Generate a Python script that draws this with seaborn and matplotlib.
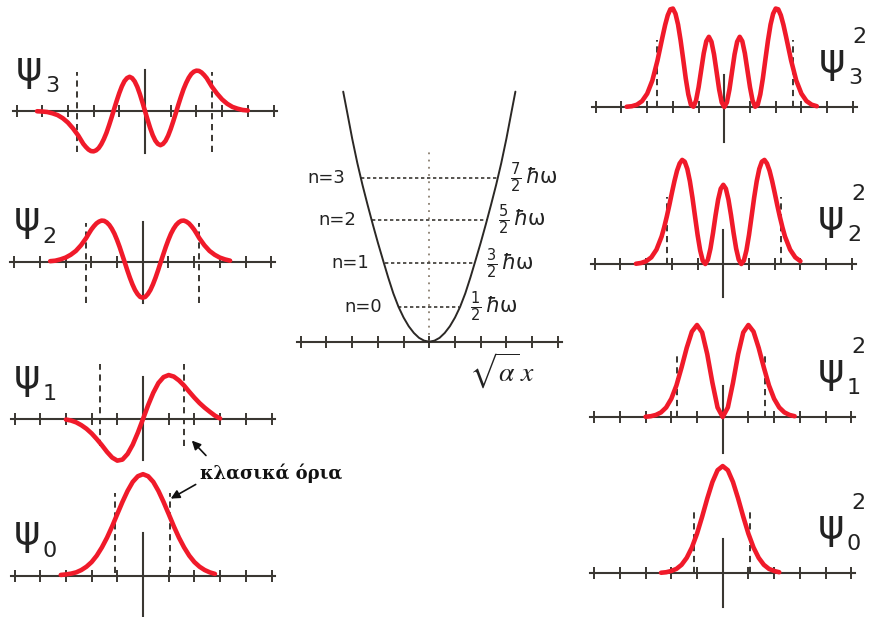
import matplotlib.pyplot as plt
import seaborn as sns

sns.set_style("white")
plt.rcParams["font.family"] = ["DejaVu Sans"]

RED = "#f01a2a"
INK = "#3a3732"
W, H = 870, 617
S = 25.7  # pixels per unit (one tick) on both axes

# sampling grids along sqrt(alpha) x
xi_c = [-4.2, -4.0, -3.8, -3.6, -3.4, -3.2, -3.0, -2.8, -2.6, -2.4, -2.2, -2.0,
        -1.8, -1.6, -1.4, -1.2, -1.0, -0.8, -0.6, -0.4, -0.2, 0.0, 0.2, 0.4,
        0.6, 0.8, 1.0, 1.2, 1.4, 1.6, 1.8, 2.0, 2.2, 2.4, 2.6, 2.8, 3.0, 3.2,
        3.4, 3.6, 3.8, 4.0, 4.2]
xi_f = [-4.2, -4.0, -3.8, -3.6, -3.4, -3.2, -3.0, -2.8, -2.6,
        -2.4, -2.3, -2.2, -2.1, -2.0, -1.9, -1.8, -1.7, -1.6, -1.5, -1.4, -1.3,
        -1.2, -1.1, -1.0, -0.9, -0.8, -0.7, -0.6, -0.5, -0.4, -0.3, -0.2, -0.1,
        0.0, 0.1, 0.2, 0.3, 0.4, 0.5, 0.6, 0.7, 0.8, 0.9, 1.0, 1.1, 1.2, 1.3,
        1.4, 1.5, 1.6, 1.7, 1.8, 1.9, 2.0, 2.1, 2.2, 2.3, 2.4,
        2.6, 2.8, 3.0, 3.2, 3.4, 3.6, 3.8, 4.0, 4.2]

# wave functions (left column)
psi3 = [-0.01, -0.02, -0.04, -0.09, -0.16, -0.28, -0.45, -0.68, -0.95,
        -1.28, -1.40, -1.50, -1.56, -1.57, -1.53, -1.44, -1.29, -1.09, -0.85,
        -0.56, -0.25, 0.08, 0.40, 0.70, 0.96, 1.16, 1.28, 1.33, 1.28, 1.15,
        0.94, 0.66, 0.34,
        0.0,
        -0.34, -0.66, -0.94, -1.15, -1.28, -1.33, -1.28, -1.16, -0.96, -0.70,
        -0.40, -0.08, 0.25, 0.56, 0.85, 1.09, 1.29, 1.44, 1.53, 1.57, 1.56,
        1.50, 1.40, 1.28,
        0.95, 0.68, 0.45, 0.28, 0.16, 0.09, 0.04, 0.02]
psi2 = [0.02, 0.04, 0.09, 0.16, 0.27, 0.42,
        0.64, 0.78, 0.92, 1.09, 1.25, 1.38, 1.49, 1.56, 1.60, 1.59, 1.53, 1.43,
        1.28, 1.09, 0.85, 0.58, 0.28, -0.02, -0.33, -0.62, -0.88, -1.10, -1.26,
        -1.37,
        -1.40,
        -1.37, -1.26, -1.10, -0.88, -0.62, -0.33, -0.02, 0.28, 0.58, 0.85, 1.09,
        1.28, 1.43, 1.53, 1.59, 1.60, 1.56, 1.49, 1.38, 1.25, 1.09, 0.92, 0.78,
        0.64,
        0.42, 0.27, 0.16, 0.09, 0.04]
psi1 = [-0.02, -0.06, -0.13, -0.24, -0.38, -0.56, -0.78, -1.02, -1.28, -1.50,
        -1.62, -1.58, -1.36, -1.00, -0.53, 0.0, 0.54, 1.02, 1.40, 1.63, 1.71,
        1.65, 1.50, 1.30, 1.06, 0.83, 0.62, 0.44, 0.28, 0.13, 0.02]
psi0 = [0.03, 0.05, 0.08, 0.13, 0.22, 0.35, 0.53, 0.78, 1.10, 1.48, 1.92, 2.40,
        2.87, 3.30, 3.65, 3.87, 3.95, 3.87, 3.65, 3.30, 2.87, 2.40, 1.92, 1.48,
        1.10, 0.78, 0.53, 0.35, 0.22, 0.13, 0.07]

# probability densities (right column)
psi3_sq = [0.01, 0.03, 0.09, 0.23, 0.52, 1.03, 1.81,
           2.75, 3.20, 3.57, 3.80, 3.83, 3.63, 3.21, 2.59, 1.86, 1.11, 0.49,
           0.09, 0.01, 0.25, 0.77, 1.43, 2.09, 2.56, 2.73, 2.54, 2.05, 1.37,
           0.68, 0.18,
           0.0,
           0.18, 0.68, 1.37, 2.05, 2.54, 2.73, 2.56, 2.09, 1.43, 0.77, 0.25,
           0.01, 0.09, 0.49, 1.11, 1.86, 2.59, 3.21, 3.63, 3.83, 3.80, 3.57,
           3.20, 2.75,
           1.81, 1.03, 0.52, 0.23, 0.09, 0.03]
psi2_sq = [0.01, 0.04, 0.11, 0.26, 0.56,
           1.07, 1.43, 1.84, 2.29, 2.77, 3.23, 3.63, 3.91, 4.05, 3.98, 3.70,
           3.22, 2.58, 1.85, 1.13, 0.53, 0.13, 0.00, 0.17, 0.60, 1.21, 1.90,
           2.51, 2.93,
           3.08,
           2.93, 2.51, 1.90, 1.21, 0.60, 0.17, 0.00, 0.13, 0.53, 1.13, 1.85,
           2.58, 3.22, 3.70, 3.98, 4.05, 3.91, 3.63, 3.23, 2.77, 2.29, 1.84,
           1.43, 1.07,
           0.56, 0.26, 0.11]
psi1_sq = [0.01, 0.03, 0.08, 0.18, 0.37, 0.71, 1.23, 1.93, 2.69, 3.32, 3.58,
           3.29, 2.44, 1.33, 0.37, 0.0, 0.37, 1.33, 2.44, 3.29, 3.58, 3.32,
           2.69, 1.93, 1.23, 0.71, 0.37, 0.18, 0.08, 0.03]
psi0_sq = [0.01, 0.03, 0.08, 0.16, 0.32, 0.59, 0.99, 1.53, 2.19, 2.90, 3.54,
           4.00, 4.16, 4.00, 3.54, 2.90, 2.19, 1.53, 0.99, 0.59, 0.32, 0.16,
           0.08, 0.03]

# classical turning points (dashed lines) per state
turn_left = [-1.1, -1.68, -2.2, -2.65]
turn_right = [1.05, 1.6, 2.2, 2.6]
turn_left_sq = [-1.1, -1.79, -2.2, -2.6]
turn_right_sq = [1.06, 1.65, 2.25, 2.67]

# potential well (middle)
pot_x = [-3.35, -3.2, -3.0, -2.8, -2.6, -2.4, -2.2, -2.0, -1.8, -1.6, -1.4,
         -1.2, -1.0, -0.8, -0.6, -0.4, -0.2, 0.0, 0.2, 0.4, 0.6, 0.8, 1.0,
         1.2, 1.4, 1.6, 1.8, 2.0, 2.2, 2.4, 2.6, 2.8, 3.0, 3.2, 3.35]
pot_v = [9.73, 8.95, 7.90, 6.95, 6.10, 5.32, 4.57, 3.85, 3.17, 2.50, 1.88,
         1.36, 0.94, 0.60, 0.34, 0.15, 0.04, 0.0, 0.04, 0.15, 0.34, 0.60, 0.94,
         1.36, 1.88, 2.50, 3.17, 3.85, 4.57, 5.32, 6.10, 6.95, 7.90, 8.95, 9.73]
level_e = [1.36, 3.05, 4.73, 6.38]
level_left = [-1.23, -1.73, -2.24, -2.65]
level_right = [1.15, 1.77, 2.24, 2.70]
level_names = ["n=0", "n=1", "n=2", "n=3"]
level_energy = [r"$\frac{1}{2}\,\hbar\mathrm{\omega}$",
                r"$\frac{3}{2}\,\hbar\mathrm{\omega}$",
                r"$\frac{5}{2}\,\hbar\mathrm{\omega}$",
                r"$\frac{7}{2}\,\hbar\mathrm{\omega}$"]

fig = plt.figure(figsize=(W / 100, H / 100), dpi=100)


def panel(cx, cy, ylo, yhi, vbounds=None):
    xlo, xhi = -5.5, 5.5
    rect = [(cx + xlo * S) / W, (H - cy + ylo * S) / H,
            (xhi - xlo) * S / W, (yhi - ylo) * S / H]
    ax = fig.add_axes(rect)
    ax.set_xlim(xlo, xhi)
    ax.set_ylim(ylo, yhi)
    ax.patch.set_visible(False)
    ax.spines["top"].set_visible(False)
    ax.spines["right"].set_visible(False)
    ax.spines["bottom"].set_position(("data", 0))
    ax.spines["bottom"].set_bounds(-5.15, 5.15)
    ax.spines["bottom"].set_color(INK)
    ax.spines["bottom"].set_linewidth(1.5)
    if vbounds is None:
        ax.spines["left"].set_visible(False)
    else:
        ax.spines["left"].set_position(("data", 0))
        ax.spines["left"].set_bounds(*vbounds)
        ax.spines["left"].set_color(INK)
        ax.spines["left"].set_linewidth(1.5)
    ax.set_xticks(range(-5, 6))
    ax.set_yticks([])
    ax.tick_params(axis="x", bottom=True, direction="inout", length=9,
                   width=1.4, color=INK, labelbottom=False)
    for sp in ax.spines.values():
        sp.set_clip_on(False)
    return ax


def curve(ax, grid, start, ys):
    i0 = grid.index(start)
    xs = grid[i0:i0 + len(ys)]
    sns.lineplot(x=xs, y=ys, ax=ax, color=RED, linewidth=3.3,
                 estimator=None, sort=False, zorder=4)
    ax.lines[-1].set_clip_on(False)
    ax.lines[-1].set_solid_capstyle("round")


def limits(ax, xl, xr, ylo, yhi):
    ax.vlines([xl, xr], ylo, yhi, colors=INK, linewidth=1.4,
              linestyles=(0, (3.2, 2.4)), zorder=3, clip_on=False)


def left_label(ax, n):
    ax.text(-4.5, 1.65, "ψ", fontsize=29, ha="center", va="center",
            color="#222222", clip_on=False)
    ax.text(-3.62, 0.98, str(n), fontsize=16, ha="center", va="center",
            color="#222222", clip_on=False)


def right_label(ax, n):
    ax.text(4.2, 1.8, "ψ", fontsize=29, ha="center", va="center",
            color="#222222", clip_on=False)
    ax.text(5.27, 2.72, "2", fontsize=16, ha="center", va="center",
            color="#222222", clip_on=False)
    ax.text(5.1, 1.12, str(n), fontsize=16, ha="center", va="center",
            color="#222222", clip_on=False)


# ---- left column: psi_n
ax3 = panel(145, 111, -2.0, 2.0, (-1.63, 1.6))
curve(ax3, xi_f, -4.2, psi3)
limits(ax3, turn_left[3], turn_right[3], -1.58, 1.53)
left_label(ax3, 3)

ax2 = panel(142.7, 261.7, -2.0, 2.0, (-1.6, 1.56))
curve(ax2, xi_f, -3.6, psi2)
limits(ax2, turn_left[2], turn_right[2], -1.6, 1.5)
left_label(ax2, 2)

ax1 = panel(143, 419, -2.0, 2.4, (-1.6, 1.63))
curve(ax1, xi_c, -3.0, psi1)
limits(ax1, turn_left[1], turn_right[1], -1.05, 2.14)
left_label(ax1, 1)
ax1.annotate("", xy=(1.9, -0.84), xytext=(2.45, -1.42),
             arrowprops=dict(arrowstyle="-|>", color="#111111", lw=1.2,
                             mutation_scale=13, shrinkA=0, shrinkB=0))

ax0 = panel(143, 575.7, -1.7, 4.3, (-1.6, 1.67))
curve(ax0, xi_c, -3.2, psi0)
limits(ax0, turn_left[0], turn_right[0], 0.1, 3.2)
left_label(ax0, 0)
ax0.annotate("", xy=(1.08, 3.0), xytext=(2.05, 3.55),
             arrowprops=dict(arrowstyle="-|>", color="#111111", lw=1.2,
                             mutation_scale=13, shrinkA=0, shrinkB=0))
ax0.text(2.2, 3.98, "κλασικά όρια", fontsize=13, fontweight="bold",
         family="DejaVu Serif", ha="left", va="center", color="#111111",
         clip_on=False)

# ---- right column: psi_n squared
bx3 = panel(724.3, 107, -1.5, 4.2, (-1.35, 1.25))
curve(bx3, xi_f, -3.8, psi3_sq)
limits(bx3, turn_left_sq[3], turn_right_sq[3], 0, 2.6)
right_label(bx3, 3)

bx2 = panel(723.3, 264, -1.5, 4.3, (-1.27, 1.32))
curve(bx2, xi_f, -3.4, psi2_sq)
limits(bx2, turn_left_sq[2], turn_right_sq[2], 0, 2.6)
right_label(bx2, 2)

bx1 = panel(722.7, 417, -1.5, 4.0, (-1.4, 1.2))
curve(bx1, xi_c, -3.0, psi1_sq)
limits(bx1, turn_left_sq[1], turn_right_sq[1], 0, 2.54)
right_label(bx1, 1)

bx0 = panel(722.7, 573, -1.5, 4.3, (-1.32, 1.32))
curve(bx0, xi_c, -2.4, psi0_sq)
limits(bx0, turn_left_sq[0], turn_right_sq[0], 0, 2.53)
right_label(bx0, 0)

# ---- middle: potential well and energy levels
mx = panel(429.3, 341.7, -1.6, 10.0)
sns.lineplot(x=pot_x, y=pot_v, ax=mx, color="#2b2825", linewidth=1.4,
             estimator=None, sort=False, zorder=4)
mx.vlines(0, 0, 7.43, colors="#8a7f70", linewidth=1.3,
          linestyles=(0, (1.0, 3.0)), zorder=2)
mx.hlines(level_e, level_left, level_right, colors=INK, linewidth=1.2,
          linestyles=(0, (2.0, 1.6)), zorder=3)
for e, xl, xr, name, lab in zip(level_e, level_left, level_right,
                                level_names, level_energy):
    mx.text(xl - 0.62, e, name, fontsize=13, ha="right", va="center",
            color="#222222")
    mx.text(xr + 0.45, e, lab, fontsize=15, ha="left", va="center",
            color="#222222")
mx.text(2.83, -1.15, r"$\sqrt{\alpha}\,x$", fontsize=20, ha="center",
        va="center", math_fontfamily="stix", color="#222222")

fig.savefig("out.png", dpi=100, facecolor="white")
